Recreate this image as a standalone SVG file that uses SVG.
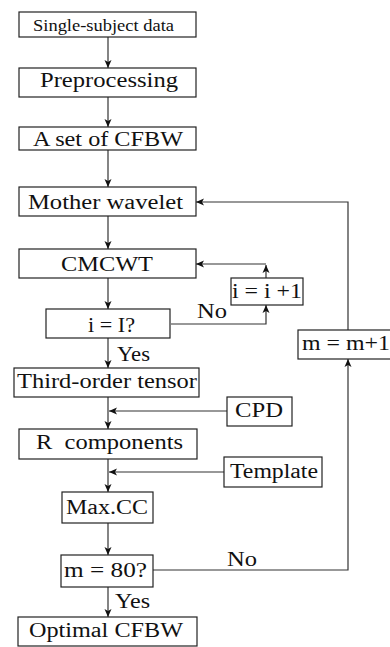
<svg xmlns="http://www.w3.org/2000/svg" width="390" height="647" viewBox="0 0 390 647">
  <defs>
    <marker id="arrow" viewBox="0 0 8 8" refX="8" refY="4" markerWidth="8" markerHeight="8" markerUnits="userSpaceOnUse" orient="auto">
      <path d="M0,0.5 L8,4 L0,7.5 L2,4 Z" fill="#111"/>
    </marker>
    <style>
      .box { fill: #fff; stroke: #222; stroke-width: 1.2; }
      .lbl { font-family: "Liberation Serif", "Times New Roman", serif; font-size: 20px; fill: #111; }
      .small { font-size: 16px; }
      .edge { fill: none; stroke: #333; stroke-width: 1.2; }
      .arr { marker-end: url(#arrow); }
    </style>
  </defs>
  <rect width="390" height="647" fill="#fff"/>

  <!-- connectors -->
  <g id="connectors">
    <path class="edge arr" d="M108,37 V68"/>
    <path class="edge arr" d="M108,97 V127"/>
    <path class="edge arr" d="M108,150 V187"/>
    <path class="edge arr" d="M108,216 V249"/>
    <path class="edge arr" d="M108,278 V309"/>
    <path class="edge arr" d="M108,338 V368"/>
    <path class="edge arr" d="M108,397 V429"/>
    <path class="edge arr" d="M227,411 H109"/>
    <path class="edge arr" d="M108,459 V492"/>
    <path class="edge arr" d="M224,472 H109"/>
    <path class="edge arr" d="M108,523 V555"/>
    <path class="edge arr" d="M108,587 V617"/>
    <!-- inner loop: i = I? no -> i = i + 1 -> CMCWT -->
    <path class="edge arr" d="M171,324 H266 V305"/>
    <path class="edge arr" d="M266,278 V265"/>
    <path class="edge arr" d="M266,264 H196"/>
    <!-- outer loop: m = 80? no -> m = m+1 -> Mother wavelet -->
    <path class="edge arr" d="M153,570 H348 V359"/>
    <path class="edge arr" d="M348,330 V202 H196"/>
    <text class="lbl" x="197" y="318" textLength="30" lengthAdjust="spacingAndGlyphs">No</text>
    <text class="lbl" x="117" y="361" textLength="33" lengthAdjust="spacingAndGlyphs">Yes</text>
    <text class="lbl" x="227" y="566" textLength="30" lengthAdjust="spacingAndGlyphs">No</text>
    <text class="lbl" x="115" y="608" textLength="35" lengthAdjust="spacingAndGlyphs">Yes</text>
  </g>

  <g id="single-subject-data">
    <rect class="box" x="19" y="12" width="177" height="25"/>
    <text class="lbl small" x="33" y="31" textLength="141" lengthAdjust="spacingAndGlyphs">Single-subject data</text>
  </g>
  <g id="preprocessing">
    <rect class="box" x="19" y="68" width="177" height="29"/>
    <text class="lbl" x="40" y="87" textLength="138" lengthAdjust="spacingAndGlyphs">Preprocessing</text>
  </g>
  <g id="cfbw-set">
    <rect class="box" x="19" y="127" width="177" height="23"/>
    <text class="lbl" x="33" y="146" textLength="150" lengthAdjust="spacingAndGlyphs">A set of CFBW</text>
  </g>
  <g id="mother-wavelet">
    <rect class="box" x="19" y="187" width="177" height="29"/>
    <text class="lbl" x="28" y="209" textLength="155" lengthAdjust="spacingAndGlyphs">Mother wavelet</text>
  </g>
  <g id="cmcwt">
    <rect class="box" x="19" y="249" width="177" height="29"/>
    <text class="lbl" x="61" y="271" textLength="92" lengthAdjust="spacingAndGlyphs">CMCWT</text>
  </g>
  <g id="check-i">
    <rect class="box" x="46" y="309" width="124" height="29"/>
    <text class="lbl" x="88" y="332" textLength="47" lengthAdjust="spacingAndGlyphs">i = I?</text>
  </g>
  <g id="increment-i">
    <rect class="box" x="231" y="278" width="72" height="27"/>
    <text class="lbl" x="232" y="298" textLength="70" lengthAdjust="spacingAndGlyphs">i = i +1</text>
  </g>
  <g id="increment-m">
    <rect class="box" x="298" y="330" width="94" height="29"/>
    <text class="lbl" x="302" y="350" textLength="88" lengthAdjust="spacingAndGlyphs">m = m+1</text>
  </g>
  <g id="third-order-tensor">
    <rect class="box" x="14" y="368" width="185" height="29"/>
    <text class="lbl" x="17" y="388" textLength="180" lengthAdjust="spacingAndGlyphs">Third-order tensor</text>
  </g>
  <g id="cpd">
    <rect class="box" x="227" y="397" width="65" height="29"/>
    <text class="lbl" x="235" y="417" textLength="48" lengthAdjust="spacingAndGlyphs">CPD</text>
  </g>
  <g id="r-components">
    <rect class="box" x="19" y="429" width="178" height="30"/>
    <text class="lbl" x="36" y="449" textLength="147" lengthAdjust="spacingAndGlyphs" xml:space="preserve">R  components</text>
  </g>
  <g id="template">
    <rect class="box" x="224" y="457" width="98" height="30"/>
    <text class="lbl" x="230" y="478" textLength="88" lengthAdjust="spacingAndGlyphs">Template</text>
  </g>
  <g id="max-cc">
    <rect class="box" x="62" y="492" width="91" height="31"/>
    <text class="lbl" x="66" y="514" textLength="82" lengthAdjust="spacingAndGlyphs">Max.CC</text>
  </g>
  <g id="check-m">
    <rect class="box" x="61" y="555" width="92" height="32"/>
    <text class="lbl" x="64" y="577" textLength="83" lengthAdjust="spacingAndGlyphs">m = 80?</text>
  </g>
  <g id="optimal-cfbw">
    <rect class="box" x="18" y="617" width="179" height="29"/>
    <text class="lbl" x="29" y="637" textLength="154" lengthAdjust="spacingAndGlyphs">Optimal CFBW</text>
  </g>
</svg>
